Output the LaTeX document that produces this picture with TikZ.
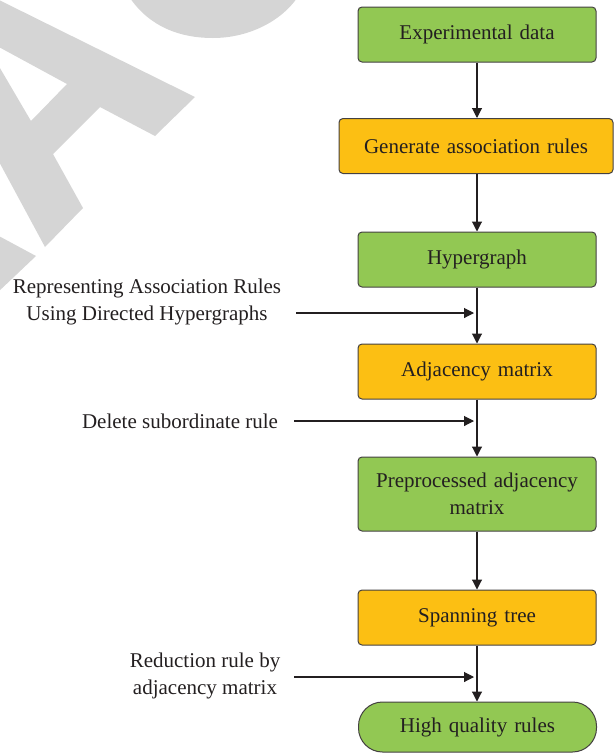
\documentclass[tikz,border=0pt]{standalone}
\usepackage{fontspec}
\setmainfont{Liberation Serif}
\usetikzlibrary{arrows.meta}
\definecolor{boxgreen}{HTML}{92C853}
\definecolor{boxorange}{HTML}{FCBF13}
\definecolor{ink}{HTML}{231F20}
\definecolor{markgrey}{HTML}{D5D5D5}

\begin{document}
\begin{tikzpicture}[x=1pt,y=-1pt,
  font=\fontsize{21}{26.5}\selectfont, text=ink,
  box/.style={draw=ink!85, line width=1pt, rounded corners=4pt,
    minimum width=238pt, minimum height=55pt, inner sep=0pt,
    align=center, text width=230pt},
  greenbox/.style={box, fill=boxgreen},
  orangebox/.style={box, fill=boxorange},
  terminal/.style={greenbox, rounded corners=24pt, minimum height=50pt},
  flow/.style={draw=ink, line width=1.1pt,
    -{Triangle[length=10pt,width=10pt]}},
  note/.style={align=center, inner sep=0pt}
]
\useasboundingbox (0,0) rectangle (615,753);

% grey background lettering
\fill[markgrey, even odd rule]
  (-3,-1) -- (195,97) -- (155,136) -- (100,107) -- (53,154) -- (83,208)
  -- (45,247) -- (-3,158) -- cycle
  (-3,46) -- (67,84) -- (31,121) -- (-3,63) -- cycle;
\fill[markgrey] (130,-2) .. controls (150,27) and (180,38) .. (213,38)
  .. controls (250,38) and (282,20) .. (297,-2) -- cycle;
\fill[markgrey] (-3,235) -- (36,256) -- (-3,293) -- cycle;

% flow boxes
\node[greenbox]  (n1) at (477,34.5)  {Experimental data};
\node[orangebox, minimum width=274pt, text width=270pt]
                 (n2) at (476,146)   {Generate association rules};
\node[greenbox]  (n3) at (477,259.5) {Hypergraph};
\node[orangebox] (n4) at (477,371.5) {Adjacency matrix};
\node[greenbox, minimum height=74pt]
                 (n5) at (477,494)   {Preprocessed adjacency\\matrix};
\node[orangebox] (n6) at (477,617.5) {Spanning tree};
\node[terminal]  (n7) at (477.5,727) {High quality rules};

% main vertical flow
\draw[flow] (n1.south) -- (n1.south |- n2.north);
\draw[flow] (n1.south |- n2.south) -- (n3.north);
\draw[flow] (n3.south) -- (n4.north);
\draw[flow] (n4.south) -- (n5.north);
\draw[flow] (n5.south) -- (n6.north);
\draw[flow] (n6.south) -- (n6.south |- n7.north);

% side inputs
\node[note] (l1) at (147,302) {Representing Association Rules\\Using Directed Hypergraphs};
\node[note] (l2) at (180,421) {Delete subordinate rule};
\node[note] (l3) at (205,676) {Reduction rule by\\adjacency matrix};

\coordinate (s1) at (296,313);
\coordinate (j1) at (474,313);
\coordinate (s2) at (294,421);
\coordinate (j2) at (474,421);
\coordinate (s3) at (294,677);
\coordinate (j3) at (474,677);

\draw[flow] (s1) -- (j1);
\draw[flow] (s2) -- (j2);
\draw[flow] (s3) -- (j3);
\end{tikzpicture}
\end{document}
